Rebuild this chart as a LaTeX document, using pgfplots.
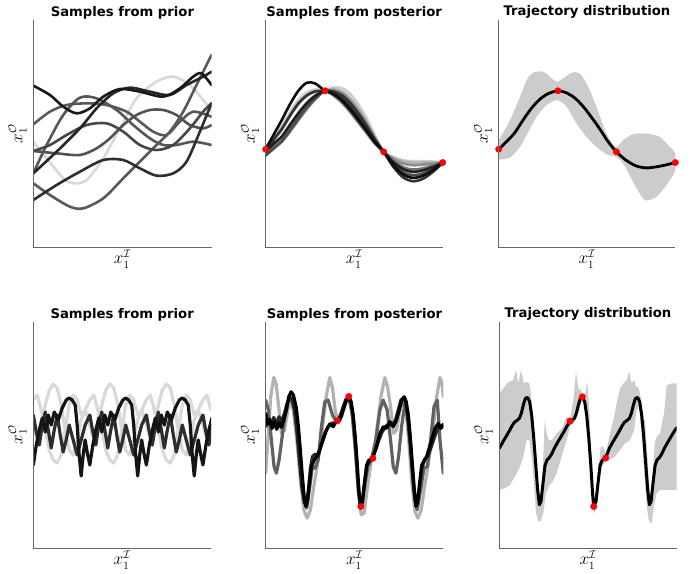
\documentclass[border=0pt]{standalone}
\usepackage{pgfplots}
\pgfplotsset{compat=1.18}
\usepackage{fontspec}
\newfontfamily\dvs{DejaVu Sans}
\definecolor{spinec}{HTML}{666666}
\definecolor{band}{HTML}{CCCCCC}
\pgfplotsset{
  every axis title shift=0pt,
  panel/.style={scale only axis, y dir=reverse, ticks=none,
    axis line style={draw=none}, clip mode=individual,
    title style={font=\dvs\bfseries\fontsize{13.2}{15}\selectfont, at={(axis description cs:0.5,1)}, anchor=south, yshift=-2pt, inner sep=3pt},
    label style={font=\fontsize{16}{18}\selectfont},
    xlabel={$x_1^{\mathcal{I}}$}, ylabel={$x_1^{\mathcal{O}}$},
    xlabel style={at={(axis description cs:0.5,0)}, anchor=north, inner sep=3pt},
    ylabel style={at={(axis description cs:-0.017,0.5)}, anchor=south},
  },
  crv/.style={smooth, line width=2.6pt, line cap=round, line join=round},
  jag/.style={line width=3.2pt, line cap=round, line join=round},
  obs/.style={only marks, mark=*, mark size=3.2pt, color=red},
}
\newcommand{\spines}{\draw[spinec, line width=1pt] (axis description cs:0,1) -- (axis description cs:0,0) -- (axis description cs:1,0);}
\begin{document}
\begin{tikzpicture}
\path[use as bounding box] (0,0) rectangle (700pt,-573pt);
% ---------- Panel 1: prior samples (smooth) ----------
\begin{axis}[panel, at={(122.4pt,-133.5pt)}, anchor=center, width=178.2pt, height=227pt,
  xmin=10, xmax=545, ymin=-75, ymax=606, title={Samples from prior}]
\addplot[crv, color=black!15] coordinates {(10,290)(50,340)(100,400)(130,415)(170,405)(220,340)(270,250)(320,160)(380,110)(430,95)(480,120)(520,165)(545,200)};
\addplot[crv, color=black!65] coordinates {(10,238)(60,200)(110,180)(170,175)(230,180)(290,200)(330,230)(370,260)(410,270)(450,230)(490,200)(545,215)};
\addplot[crv, color=black!68] coordinates {(10,318)(80,325)(150,330)(200,310)(240,280)(280,240)(320,210)(360,195)(400,195)(440,210)(480,240)(520,250)(545,240)};
\addplot[crv, color=black!66] coordinates {(10,385)(50,300)(100,210)(150,158)(200,160)(260,195)(310,240)(360,280)(400,300)(440,300)(490,290)(545,300)};
\addplot[crv, color=black!65] coordinates {(10,415)(60,450)(120,485)(160,490)(220,460)(280,400)(340,340)(380,300)(420,260)(460,200)(500,120)(545,30)};
\addplot[crv, color=black!72] coordinates {(10,318)(60,300)(110,270)(170,240)(230,235)(280,260)(330,300)(380,315)(430,300)(480,250)(520,200)(545,175)};
\addplot[crv, color=black!82] coordinates {(10,465)(80,420)(150,380)(220,345)(280,345)(330,370)(380,392)(430,385)(470,350)(510,260)(545,175)};
\addplot[crv, color=black!85] coordinates {(10,385)(80,320)(150,250)(200,190)(250,145)(300,128)(360,140)(420,150)(470,120)(520,95)(545,80)};
\addplot[crv, color=black!90] coordinates {(10,122)(60,150)(100,185)(140,205)(180,190)(220,155)(270,132)(330,140)(400,155)(450,130)(490,95)(515,85)(545,120)};
\spines
\end{axis}
% ---------- Panel 2: posterior samples (smooth) ----------
\begin{axis}[panel, at={(354.2pt,-133.5pt)}, anchor=center, width=177pt, height=227pt,
  xmin=107, xmax=638, ymin=60, ymax=740, title={Samples from posterior}]
\addplot[crv, color=black!20] coordinates {(107,440)(130,415)(155,379)(180,336)(205,300)(230,277)(255,268)(285,272)(310,262)(335,264)(360,281)(385,313)(410,355)(435,406)(461,455)(490,470)(520,480)(550,483)(580,483)(610,484)(638,487)};
\addplot[crv, color=black!30] coordinates {(107,452)(130,420)(155,389)(180,348)(205,313)(230,288)(255,275)(285,272)(310,267)(335,274)(360,294)(385,326)(410,365)(435,412)(461,455)(490,473)(520,484)(550,488)(580,487)(610,487)(638,487)};
\addplot[crv, color=black!45] coordinates {(107,460)(130,440)(155,412)(180,375)(205,338)(230,308)(255,286)(285,272)(310,270)(335,279)(360,301)(385,333)(410,371)(435,415)(461,455)(490,476)(520,490)(550,495)(580,493)(610,490)(638,487)};
\addplot[crv, color=black!55] coordinates {(107,447)(130,439)(155,424)(180,394)(205,360)(230,327)(255,298)(285,272)(310,286)(335,307)(360,335)(385,367)(410,399)(435,431)(461,455)(490,482)(520,501)(550,508)(580,504)(610,496)(638,487)};
\addplot[crv, color=black!70] coordinates {(107,466)(130,446)(155,424)(180,389)(205,353)(230,321)(255,295)(285,272)(310,276)(335,289)(360,313)(385,345)(410,381)(435,421)(461,455)(490,491)(520,516)(550,525)(580,519)(610,505)(638,487)};
\addplot[crv, color=black!80] coordinates {(107,447)(130,419)(155,387)(180,346)(205,310)(230,286)(255,274)(285,272)(310,274)(335,285)(360,308)(385,340)(410,377)(435,418)(461,455)(490,500)(520,532)(550,543)(580,535)(610,514)(638,487)};
\addplot[crv, color=black!88] coordinates {(107,455)(130,431)(155,409)(180,374)(205,340)(230,310)(255,288)(285,272)(310,280)(335,297)(360,323)(385,355)(410,389)(435,425)(461,455)(490,486)(520,507)(550,515)(580,510)(610,500)(638,487)};
\addplot[crv, color=black!95] coordinates {(107,447)(130,405)(155,360)(180,312)(205,272)(230,248)(255,250)(285,272)(310,282)(335,301)(360,328)(385,360)(410,393)(435,427)(461,455)(490,495)(520,523)(550,533)(580,526)(610,509)(638,487)};
\addplot[obs] coordinates {(107,447)(285,272)(461,455)(638,487)};
\spines
\end{axis}
% ---------- Panel 3: trajectory distribution (smooth) ----------
\begin{axis}[panel, at={(587pt,-133.5pt)}, anchor=center, width=176.6pt, height=227pt,
  xmin=107, xmax=638, ymin=60, ymax=740, title={Trajectory distribution}]
\addplot[smooth, fill=band, draw=none] coordinates {(107,420)(141,360)(171,290)(191,240)(211,218)(241,215)(266,235)(283,245)(301,235)(326,218)(351,220)(376,260)(401,320)(431,400)(459,440)(481,420)(511,402)(551,400)(591,410)(621,440)(638,460)(638,510)(611,555)(581,590)(556,600)(541,595)(511,545)(481,490)(459,470)(431,462)(401,440)(371,410)(341,370)(311,320)(283,300)(251,315)(221,350)(191,405)(171,440)(141,472)(107,478)} -- cycle;
\addplot[crv, color=black, line width=2.8pt] coordinates {(107,447)(130,425)(155,398)(180,360)(205,325)(230,298)(255,281)(285,272)(310,278)(335,293)(360,318)(385,350)(410,385)(435,423)(461,455)(490,480)(520,497)(550,503)(580,500)(610,494)(638,487)};
\addplot[obs] coordinates {(107,447)(285,272)(461,455)(638,487)};
\spines
\end{axis}
% ---------- Panel 4: prior samples (periodic) ----------
\begin{axis}[panel, at={(122.15pt,-435pt)}, anchor=center, width=177.7pt, height=226pt,
  xmin=33.3, xmax=211.5, ymin=322, ymax=548, title={Samples from prior}]
\addplot[jag, color=black!15] coordinates {(33.3,425)(37.3,440)(41.3,425)(45.3,405)(49.3,390)(53.3,384)(57.3,388)(61.3,405)(65.3,430)(69.3,450)(73.3,455)(77.3,440)(81.3,420)(85.3,410)
(90,425)(94,440)(98,425)(102,405)(106,390)(110,384)(114,388)(118,405)(122,430)(126,450)(130,455)(134,440)(138,420)(142,410)
(146.7,425)(150.7,440)(154.7,425)(158.7,405)(162.7,390)(166.7,384)(170.7,388)(174.7,405)(178.7,430)(182.7,450)(186.7,455)(190.7,440)(194.7,420)(198.7,410)
(203.4,425)(207.4,440)(211.4,425)};
\addplot[jag, color=black!15] coordinates {(33.3,400)(37.3,395)(41.3,410)(45.3,430)(49.3,450)(53.3,460)(57.3,463)(61.3,455)(65.3,430)(69.3,405)(73.3,395)(77.3,400)(81.3,415)(85.3,410)
(90,400)(94,395)(98,410)(102,430)(106,450)(110,460)(114,463)(118,455)(122,430)(126,405)(130,395)(134,400)(138,415)(142,410)
(146.7,400)(150.7,395)(154.7,410)(158.7,430)(162.7,450)(166.7,460)(170.7,463)(174.7,455)(178.7,430)(182.7,405)(186.7,395)(190.7,400)(194.7,415)(198.7,410)
(203.4,400)(207.4,395)(211.4,410)};
\addplot[jag, color=black!82] coordinates {(33.3,415)(36.3,432)(39.3,445)(42.3,425)(45.3,412)(48.3,430)(51.3,448)(54.3,430)(57.3,415)(60.3,435)(63.3,452)(66.3,440)(69.3,425)(73.3,440)(77.3,455)(81.3,440)(85.3,425)
(90,415)(93,432)(96,445)(99,425)(102,412)(105,430)(108,448)(111,430)(114,415)(117,435)(120,452)(123,440)(126,425)(130,440)(134,455)(138,440)(142,425)
(146.7,415)(149.7,432)(152.7,445)(155.7,425)(158.7,412)(161.7,430)(164.7,448)(167.7,430)(170.7,415)(173.7,435)(176.7,452)(179.7,440)(182.7,425)(186.7,440)(190.7,455)(194.7,440)(198.7,425)
(203.4,415)(206.4,432)(209.4,445)(212.4,425)};
\addplot[jag, color=black!92] coordinates {(33.3,465)(36.3,445)(39.3,430)(42.3,418)(45.3,432)(48.3,415)(51.3,425)(54.3,412)(58.3,420)(62.3,408)(66.3,400)(69.3,398)(72.3,400)(75.3,405)(77.3,425)(79.3,455)(81.3,476)(83.3,455)(85.3,440)(87.3,452)
(90,465)(93,445)(96,430)(99,418)(102,432)(105,415)(108,425)(111,412)(115,420)(119,408)(123,400)(126,398)(129,400)(132,405)(134,425)(136,455)(138,476)(140,455)(142,440)(144,452)
(146.7,465)(149.7,445)(152.7,430)(155.7,418)(158.7,432)(161.7,415)(164.7,425)(167.7,412)(171.7,420)(175.7,408)(179.7,400)(182.7,398)(185.7,400)(188.7,405)(190.7,425)(192.7,455)(194.7,476)(196.7,455)(198.7,440)(200.7,452)
(203.4,465)(206.4,445)(209.4,430)(212.4,418)};
\spines
\end{axis}
% ---------- Panel 5: posterior samples (periodic) ----------
\begin{axis}[panel, at={(354.5pt,-435pt)}, anchor=center, width=177.6pt, height=226pt,
  xmin=118, xmax=650, ymin=65, ymax=745, title={Samples from posterior}]
\addplot[jag, color=black!30] coordinates {(118,520)(126,400)(133,290)(142,232)(149,250)(157,320)(165,400)(174,392)(184,332)(194,300)(202,340)(212,430)(222,540)(232,630)(242,655)(252,630)(262,560)(272,500)(286,400)(299,290)(310,232)(318,262)(326,330)(333,362)(345,348)(358,305)(367,290)(378,352)(388,470)(396,580)(404,645)(413,640)(423,560)(433,490)(442,455)(452,380)(463,290)(475,232)(483,260)(492,320)(501,400)(510,390)(520,330)(530,300)(538,330)(547,430)(556,550)(565,635)(574,655)(584,630)(594,560)(604,500)(618,400)(630,290)(640,232)(646,250)(650,290)};
\addplot[jag, color=black!62] coordinates {(118,300)(126,330)(135,420)(143,500)(150,520)(158,480)(166,420)(175,350)(185,305)(195,295)(203,310)(212,380)(222,480)(232,590)(241,625)(250,560)(258,500)(266,505)(275,480)(285,380)(295,305)(305,300)(318,345)(330,365)(345,350)(356,310)(366,292)(376,330)(386,440)(396,580)(404,625)(414,560)(424,500)(435,478)(448,420)(460,330)(470,300)(482,330)(492,420)(500,500)(508,520)(516,470)(525,380)(535,310)(545,340)(555,470)(565,600)(572,630)(582,570)(592,505)(602,500)(612,420)(622,320)(632,300)(640,420)(650,520)};
\addplot[jag, color=black!85] coordinates {(118,380)(126,360)(134,375)(142,352)(150,372)(158,350)(166,365)(174,340)(182,310)(190,290)(197,300)(204,330)(211,390)(218,470)(226,560)(234,610)(240,612)(246,570)(252,505)(258,470)(266,462)(275,470)(285,430)(295,400)(305,380)(315,370)(325,368)(333,363)(342,345)(350,320)(358,298)(366,292)(373,305)(380,350)(387,430)(394,540)(401,615)(408,600)(415,540)(422,495)(430,480)(438,472)(447,450)(457,420)(467,395)(477,380)(487,370)(497,376)(507,360)(515,330)(523,300)(531,292)(538,310)(545,370)(552,450)(559,540)(566,605)(572,615)(579,565)(586,505)(594,478)(604,468)(614,440)(624,410)(634,385)(643,378)(650,380)};
\addplot[jag, color=black] coordinates {(118,340)(124,372)(130,358)(137,385)(144,365)(151,388)(158,368)(165,382)(172,360)(180,330)(187,290)(194,275)(201,285)(209,320)(215,370)(221,440)(227,520)(233,590)(238,620)(243,605)(249,550)(255,500)(261,485)(270,470)(280,450)(290,420)(300,390)(310,372)(320,380)(330,363)(340,360)(350,330)(360,300)(367,290)(374,305)(380,345)(386,410)(392,490)(398,585)(403,620)(408,605)(414,550)(420,497)(426,482)(433,478)(440,470)(450,440)(460,400)(470,380)(480,385)(490,365)(500,380)(510,360)(518,330)(526,300)(533,290)(539,305)(545,345)(551,410)(557,490)(563,570)(568,620)(573,605)(579,550)(585,497)(591,485)(600,470)(615,420)(625,385)(635,370)(643,385)(650,372)};
\addplot[obs] coordinates {(333,362)(367,289)(403,620)(439,475)};
\spines
\end{axis}
% ---------- Panel 6: trajectory distribution (periodic) ----------
\begin{axis}[panel, at={(588pt,-435pt)}, anchor=center, width=177.4pt, height=226pt,
  xmin=118, xmax=650, ymin=65, ymax=745, title={Trajectory distribution}]
\addplot[fill=band, draw=none] coordinates {(118,280)(130,265)(145,245)(160,240)(168,210)(175,250)(183,210)(192,250)(200,245)(208,250)(214,290)(220,380)(228,480)(235,570)(242,600)(248,520)(254,360)(260,400)(266,420)(275,420)(290,400)(305,385)(320,350)(330,355)(340,300)(348,215)(356,270)(362,265)(368,285)(375,285)(382,245)(388,330)(395,500)(401,612)(408,590)(415,520)(422,440)(430,440)(437,462)(448,410)(460,360)(472,300)(480,265)(490,250)(500,240)(508,215)(515,250)(522,240)(528,260)(535,260)(542,290)(548,360)(555,360)(562,470)(570,600)(578,530)(584,430)(590,410)(600,400)(612,340)(620,255)(635,250)(650,250)
(650,570)(635,570)(620,570)(600,570)(590,580)(583,610)(575,670)(567,665)(560,620)(552,510)(545,400)(537,320)(530,330)(522,390)(510,420)(495,430)(480,450)(465,470)(450,480)(437,485)(426,500)(418,540)(410,625)(403,640)(397,610)(390,500)(382,375)(375,320)(368,300)(360,320)(350,355)(340,370)(330,380)(320,420)(305,470)(290,520)(278,545)(266,560)(258,580)(250,640)(242,665)(235,665)(228,640)(222,550)(215,470)(208,420)(200,420)(190,470)(180,500)(165,530)(150,555)(135,565)(118,570)} -- cycle;
\addplot[jag, color=black, line width=3pt] coordinates {(118,445)(128,427)(138,410)(148,393)(156,378)(163,367)(170,362)(178,355)(184,340)(190,315)(196,295)(203,292)(209,305)(215,345)(221,410)(227,490)(233,570)(238,615)(243,605)(249,550)(255,497)(261,480)(268,473)(275,462)(283,445)(293,427)(303,410)(313,393)(321,378)(328,367)(335,362)(343,355)(349,340)(355,315)(361,295)(368,292)(374,305)(380,345)(386,410)(392,490)(398,585)(401,620)(408,605)(414,550)(420,497)(426,482)(433,476)(440,466)(448,445)(458,427)(468,410)(478,393)(486,378)(493,367)(500,362)(508,355)(514,340)(520,315)(526,295)(533,292)(539,305)(545,345)(551,410)(557,490)(563,570)(568,615)(573,605)(579,550)(585,497)(591,480)(598,473)(605,462)(613,445)(623,427)(633,410)(643,393)(650,383)};
\addplot[obs] coordinates {(330,363)(367,290)(401,620)(437,474)};
\spines
\end{axis}
\end{tikzpicture}
\end{document}
